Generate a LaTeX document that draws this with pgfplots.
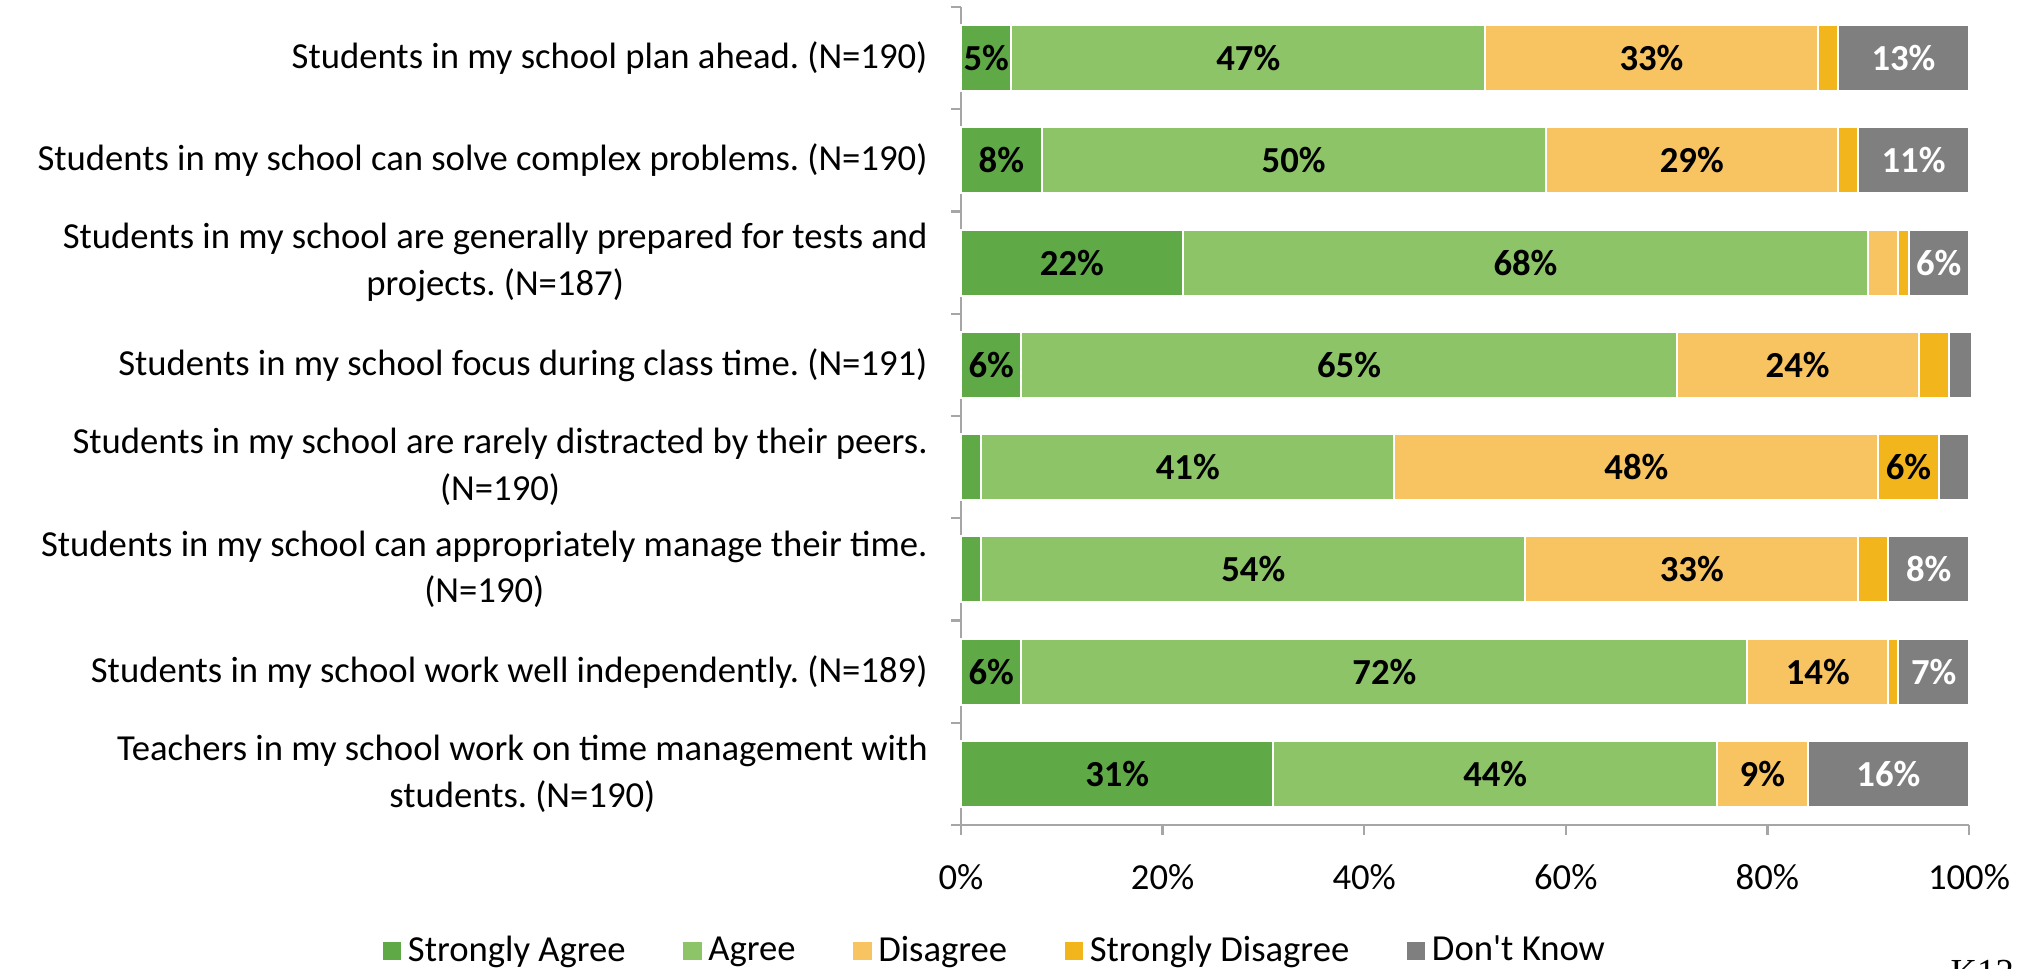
\documentclass[border=0pt]{standalone}
\usepackage{fontspec}
\setmainfont{Carlito}
\newfontfamily\plainfont{Carlito}
\newfontfamily\kfont{Liberation Serif}
\usepackage{pgfplots}
\usepackage{pgfplotstable}
\pgfplotsset{compat=1.18}
\frenchspacing

\definecolor{cSA}{HTML}{60A947}
\definecolor{cA}{HTML}{8DC468}
\definecolor{cD}{HTML}{F7C461}
\definecolor{cSD}{HTML}{F2B61C}
\definecolor{cDK}{HTML}{7F7F7F}
\definecolor{axisgray}{HTML}{A6A6A6}

% y = 8 is the top row
\pgfplotstableread{
y x
8 5
7 8
6 22
5 6
4 2
3 2
2 6
1 31
}\sa
\pgfplotstableread{
y x
8 47
7 50
6 68
5 65
4 41
3 54
2 72
1 44
}\ag
\pgfplotstableread{
y x
8 33
7 29
6 3
5 24
4 48
3 33
2 14
1 9
}\di
\pgfplotstableread{
y x
8 2
7 2
6 1
5 3
4 6
3 3
2 1
1 0
}\sd
\pgfplotstableread{
y x
8 13
7 11
6 6
5 2.3
4 3
3 8
2 7
1 16
}\dk

\pgfplotsset{
  barlab/.style={
    visualization depends on={rawx \as \rawx},
    nodes near coords={\pgfmathtruncatemacro\v{\rawx}\ifnum\v<5 \else\v\%\fi},
    every node near coord/.append style={font=\fontsize{11}{13}\selectfont\bfseries,
      text=#1, anchor=center},
  },
}

\begin{document}
\begin{tikzpicture}
\path (-288.3pt,-43.2pt) rectangle (320.7pt,247.5pt);
\begin{axis}[
  at={(0pt,0pt)}, anchor=south west,
  scale only axis, width=302.4pt, height=245.4pt,
  xbar stacked, bar width=19.8pt,
  xmin=0, xmax=100, ymin=0.5, ymax=8.5,
  clip=false,
  axis x line*=bottom, axis y line*=left,
  axis line style={axisgray, line width=0.7pt},
  tick style={axisgray, line width=0.7pt},
  tick align=outside, major tick length=3pt, minor tick length=3pt,
  xtick={0,20,...,100},
  xticklabel={\pgfmathprintnumber{\tick}\%},
  /pgf/number format/assume math mode=true,
  ytick={1,...,8},
  minor ytick={0.5,1.5,...,8.5},
  major y tick style={draw=none},
  yticklabels={
    {Teachers in my school work on time management with\\students. (N=190)},
    {Students in my school work well independently. (N=189)},
    {Students in my school can appropriately manage their time.\\(N=190)},
    {Students in my school are rarely distracted by their peers.\\(N=190)},
    {Students in my school focus during class time. (N=191)},
    {Students in my school are generally prepared for tests and\\projects. (N=187)},
    {Students in my school can solve complex problems. (N=190)},
    {Students in my school plan ahead. (N=190)}},
  yticklabel style={align=center, font=\fontsize{11}{14}\selectfont, text=black, xshift=-3.5pt},
  xticklabel style={font=\fontsize{11}{13}\selectfont, text=black, yshift=-5.4pt},
  legend style={at={(0.036,-0.154)}, anchor=center, draw=none, overlay,
    font=\fontsize{11}{13}\selectfont,
    /tikz/every even column/.append style={column sep=15.3pt}},
  legend columns=-1,
  legend image code/.code={\fill[#1,draw=none] (0pt,-2.75pt) rectangle (5.5pt,2.75pt);},
]
\addplot[fill=cSA, draw=white, line width=0.6pt, barlab=black] table[x=x,y=y]{\sa};
\addplot[fill=cA, draw=white, line width=0.6pt, barlab=black] table[x=x,y=y]{\ag};
\addplot[fill=cD, draw=white, line width=0.6pt, barlab=black] table[x=x,y=y]{\di};
\addplot[fill=cSD, draw=white, line width=0.6pt, barlab=black] table[x=x,y=y]{\sd};
\addplot[fill=cDK, draw=white, line width=0.6pt, barlab=white] table[x=x,y=y]{\dk};
\legend{Strongly Agree, Agree, Disagree, Strongly Disagree, {\plainfont Don't Know}}
\end{axis}
\node[overlay, anchor=north west, inner sep=0pt, font=\fontsize{11}{13}\selectfont\kfont] at (296.7pt,-40.5pt) {K12};
\end{tikzpicture}
\end{document}
